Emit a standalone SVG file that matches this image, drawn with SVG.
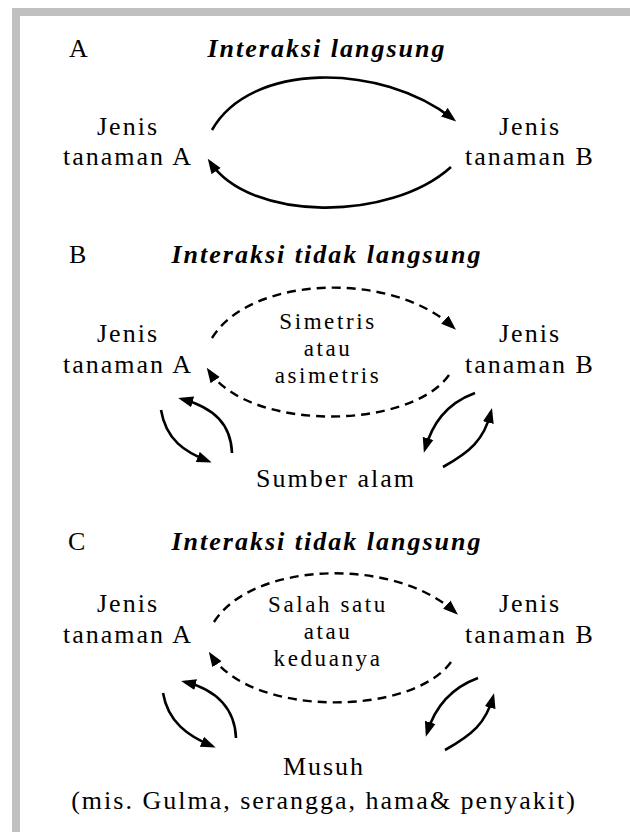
<svg xmlns="http://www.w3.org/2000/svg" width="630" height="832" viewBox="0 0 630 832">
<defs>
<style>
text{font-family:"Liberation Serif","Times New Roman",serif;font-size:26px;letter-spacing:2px;fill:#000}
.t{font-weight:bold;font-style:italic}
.m{text-anchor:middle}
.c{font-size:23px;letter-spacing:2.6px}
.solid{fill:none;stroke:#000;stroke-width:2.6;marker-end:url(#ah)}
.dash{fill:none;stroke:#000;stroke-width:2.4;stroke-dasharray:9 6;marker-end:url(#ah)}
</style>
<marker id="ah" markerUnits="userSpaceOnUse" markerWidth="15" markerHeight="12" viewBox="0 0 15 12" refX="11" refY="6" orient="auto">
<path d="M0,0.5 L15,6 L0,11.5 z" fill="#000"/>
</marker>
</defs>
<rect width="630" height="832" fill="#fff"/>
<g id="frame" fill="#c0c0c0">
<rect x="12" y="8" width="618" height="8"/>
<rect x="12" y="8" width="8" height="824"/>
</g>

<g id="sectionA">
<g id="labelA"><text x="69" y="57">A</text></g>
<g id="titleA"><text class="t m" x="327" y="57">Interaksi langsung</text></g>
<g id="nodeA-plantA"><text class="m" x="128" y="135">Jenis</text><text class="m" x="128" y="165">tanaman A</text></g>
<g id="nodeA-plantB"><text class="m" x="530" y="135">Jenis</text><text class="m" x="530" y="165">tanaman B</text></g>
</g>

<g id="sectionB">
<g id="labelB"><text x="69" y="263">B</text></g>
<g id="titleB"><text class="t m" x="327" y="263">Interaksi tidak langsung</text></g>
<g id="nodeB-plantA"><text class="m" x="128" y="342">Jenis</text><text class="m" x="128" y="373">tanaman A</text></g>
<g id="nodeB-plantB"><text class="m" x="530" y="342">Jenis</text><text class="m" x="530" y="373">tanaman B</text></g>
<g id="nodeB-mid"><text class="m c" x="328" y="329">Simetris</text><text class="m c" x="328" y="356">atau</text><text class="m c" x="328" y="383">asimetris</text></g>
<g id="nodeB-resource"><text class="m" x="336" y="487">Sumber alam</text></g>
</g>

<g id="sectionC">
<g id="labelC"><text x="68" y="550">C</text></g>
<g id="titleC"><text class="t m" x="327" y="550">Interaksi tidak langsung</text></g>
<g id="nodeC-plantA"><text class="m" x="128" y="612">Jenis</text><text class="m" x="128" y="643">tanaman A</text></g>
<g id="nodeC-plantB"><text class="m" x="530" y="612">Jenis</text><text class="m" x="530" y="643">tanaman B</text></g>
<g id="nodeC-mid"><text class="m c" x="328" y="612">Salah satu</text><text class="m c" x="328" y="639">atau</text><text class="m c" x="328" y="666">keduanya</text></g>
<g id="nodeC-enemy"><text class="m" x="324" y="775">Musuh</text><text class="m" x="324" y="809">(mis. Gulma, serangga, hama&amp; penyakit)</text></g>
</g>

<g id="connectors">
<path class="solid" d="M212,130 C250,62 380,62 453,119"/>
<path class="solid" d="M451,167 C390,222 250,222 210,162"/>

<path class="dash" d="M212,338 C250,276 390,270 453,327"/>
<path class="dash" d="M449,375 C410,430 250,432 209,371"/>
<path class="solid" d="M161,410 C166,440 185,452 208,461"/>
<path class="solid" d="M232,453 C231,425 215,408 182,399"/>
<path class="solid" d="M475,393 C445,404 432,425 425,449"/>
<path class="solid" d="M443,467 C470,452 484,440 491,412"/>

<path class="dash" d="M214,622 C252,562 392,556 455,612"/>
<path class="dash" d="M451,662 C412,716 252,718 211,655"/>
<path class="solid" d="M163,693 C168,722 188,736 212,746"/>
<path class="solid" d="M236,738 C235,710 218,690 185,682"/>
<path class="solid" d="M478,678 C448,689 434,710 427,733"/>
<path class="solid" d="M445,750 C472,735 486,723 493,697"/>
</g>
</svg>
